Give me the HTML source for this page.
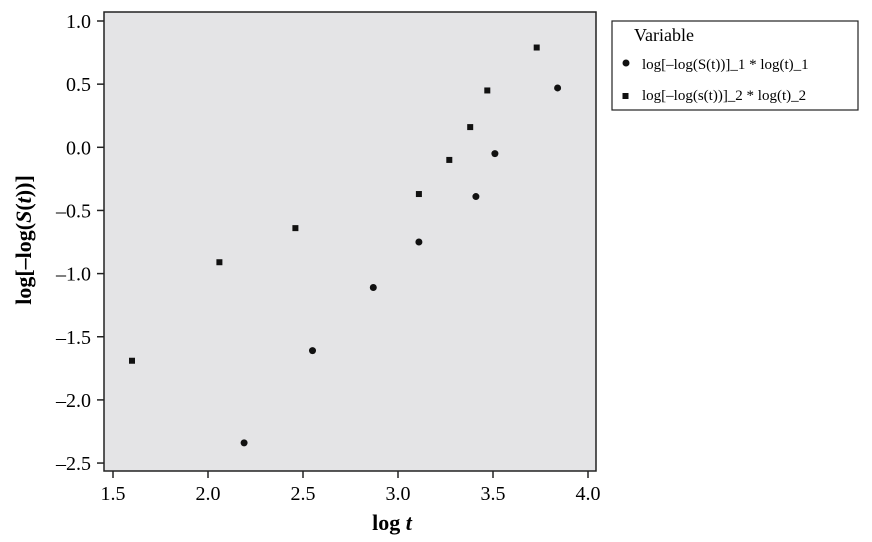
<!DOCTYPE html>
<html><head><meta charset="utf-8"><style>
body{margin:0;background:#fff;}
svg{display:block;font-family:"Liberation Serif",serif;}
</style></head><body>
<svg id="chart" width="872" height="542">
<rect x="104" y="12" width="492" height="459" fill="#e4e4e6" stroke="#222" stroke-width="1.5"/>
<g id="axes"></g><g id="marks"></g>
<text x="392" y="530" font-size="22" font-weight="bold" text-anchor="middle">log <tspan font-style="italic">t</tspan></text>
<text transform="translate(31,240) rotate(-90)" font-size="22" font-weight="bold" text-anchor="middle">log[–log(<tspan font-style="italic">S</tspan>(<tspan font-style="italic">t</tspan>))]</text>
<g>
<rect x="612" y="21" width="246" height="89" fill="#fff" stroke="#222" stroke-width="1.2"/>
<text x="634" y="41" font-size="18">Variable</text>
<circle cx="626" cy="63" r="3.5" fill="#111"/>
<text x="642" y="69" font-size="15">log[–log(S(t))]_1 * log(t)_1</text>
<rect x="622.5" y="93" width="6" height="6" fill="#111"/>
<text x="642" y="100" font-size="15">log[–log(s(t))]_2 * log(t)_2</text>
</g>
</svg>
<script>
const xTicks=[1.5,2.0,2.5,3.0,3.5,4.0];
const yTicks=[1.0,0.5,0.0,-0.5,-1.0,-1.5,-2.0,-2.5];
const s1x=[2.19,2.55,2.87,3.11,3.41,3.51,3.84];
const s1y=[-2.34,-1.61,-1.11,-0.75,-0.39,-0.05,0.47];
const s2x=[1.60,2.06,2.46,3.11,3.27,3.38,3.47,3.73];
const s2y=[-1.69,-0.91,-0.64,-0.37,-0.10,0.16,0.45,0.79];
const X=v=>113+(v-1.5)*190;
const Y=v=>21+(1.0-v)*126.3;
const NS='http://www.w3.org/2000/svg';
const axes=document.getElementById('axes'),marks=document.getElementById('marks');
function mk(tag,at,parent){const e=document.createElementNS(NS,tag);for(const k in at)e.setAttribute(k,at[k]);parent.appendChild(e);return e;}
xTicks.forEach(t=>{
 const l=mk('line',{x1:X(t),x2:X(t),y1:471,y2:478,stroke:'#222','stroke-width':1.5},axes);
 
 
 const tx=mk('text',{x:X(t),y:500,'font-size':20,'text-anchor':'middle'},axes);
 tx.textContent=t.toFixed(1);
 
 
});
yTicks.forEach(t=>{
 const l=mk('line',{x1:97,x2:104,y1:Y(t),y2:Y(t),stroke:'#222','stroke-width':1.5},axes);
 
 
 const tx=mk('text',{x:91,y:Y(t)+7,'font-size':20,'text-anchor':'end'},axes);
 tx.textContent=(t<0?'–':'')+Math.abs(t).toFixed(1);
 
 
});
s1x.forEach((v,i)=>{
 const c=mk('circle',{cx:X(v),cy:Y(s1y[i]),r:3.5,fill:'#111'},marks);
 
 
});
s2x.forEach((v,i)=>{
 const r=mk('rect',{x:X(v)-3,y:Y(s2y[i])-3,width:6,height:6,fill:'#111'},marks);
 
 
});
</script>
</body></html>
